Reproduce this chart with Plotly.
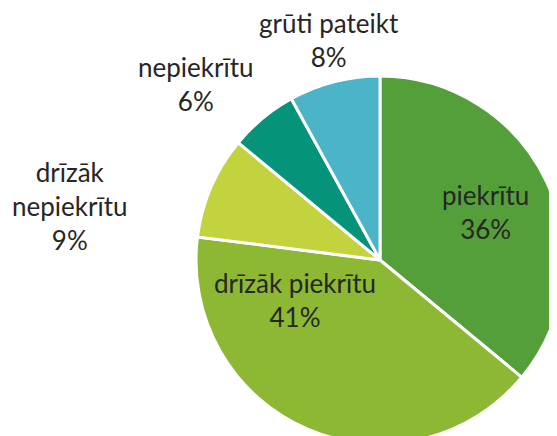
import plotly.graph_objects as go

labels = ["piekrītu", "drīzāk piekrītu", "drīzāk nepiekrītu", "nepiekrītu", "grūti pateikt"]
values = [36, 41, 9, 6, 8]
colors = ["#559F3A", "#8DB834", "#C3D33D", "#05937A", "#4BB5C7"]
label_text = ["piekrītu", "drīzāk piekrītu", "drīzāk<br>nepiekrītu", "nepiekrītu", "grūti pateikt"]

W, H = 557, 436
OFF = 8  # page body margin
# label anchor positions in viewport pixels (text layout only)
label_pos = [(485, 212), (295, 300), (70, 206), (196, 84), (329, 40)]

fig = go.Figure(go.Pie(
    labels=labels,
    values=values,
    sort=False,
    direction="clockwise",
    rotation=0,
    marker=dict(colors=colors, line=dict(color="white", width=3)),
    textinfo="none",
    hoverinfo="label+percent",
    showlegend=False,
    domain=dict(x=[188 / W, 556 / W], y=[0.0, 1 - 68 / H]),
))

for txt, v, (px, py) in zip(label_text, values, label_pos):
    fig.add_annotation(
        x=(px - OFF) / W, y=1 - (py - OFF) / H, xref="paper", yref="paper",
        text=f"{txt}<br>{v}%", showarrow=False,
        font=dict(family="Lato, Open Sans, sans-serif", size=26, color="#262626"),
        align="center", xanchor="center", yanchor="middle",
    )

fig.update_layout(
    width=W, height=H,
    margin=dict(l=0, r=0, t=0, b=0),
    paper_bgcolor="white", plot_bgcolor="white",
)

fig.write_html("out.html")
